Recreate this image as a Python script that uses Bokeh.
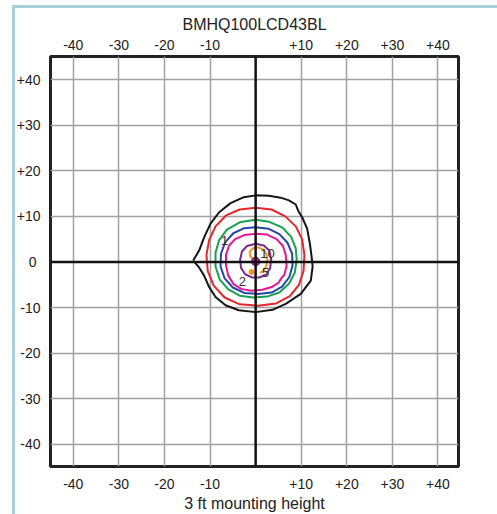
from bokeh.plotting import figure
from bokeh.models import LinearAxis, FixedTicker, Span
from bokeh.core.properties import value
from bokeh.embed import file_html
from bokeh.resources import INLINE

title = "BMHQ100LCD43BL"
xlabel = "3 ft mounting height"
x_ticks = [-40, -30, -20, -10, 10, 20, 30, 40]
x_tick_labels = ["-40", "-30", "-20", "-10", "+10", "+20", "+30", "+40"]
y_ticks = [-40, -30, -20, -10, 0, 10, 20, 30, 40]
y_tick_labels = ["-40", "-30", "-20", "-10", "0\u00a0", "+10", "+20", "+30", "+40"]
grid_ticks = [-40, -30, -20, -10, 10, 20, 30, 40]

# contour outlines (feet)
black_x = [-13.7, -12.4, -11.3, -9.9, -8.0, -5.5, -2.6, 0.0, 2.9, 5.5, 7.3, 8.8, 9.3, 10.2, 11.3, 11.9, 12.3, 12.5, 12.1, 9.9, 6.6, 3.7, 0.0, -3.7, -6.6, -8.8, -10.2, -11.3, -12.4, -13.7]
black_y = [0.3, 2.5, 5.4, 8.4, 10.9, 12.9, 14.2, 14.6, 14.5, 14.1, 13.5, 12.6, 11.3, 9.8, 7.3, 4.0, 1.0, -1.0, -4.1, -7.0, -9.2, -10.5, -11.0, -10.6, -9.5, -7.7, -5.5, -3.0, -1.2, 0.3]
red_x = [0.0, 3.5, 6.5, 8.8, 10.2, 10.7, 10.5, 9.5, 7.5, 4.5, 0.5, -3.5, -6.8, -9.2, -10.5, -10.8, -10.2, -8.8, -6.5, -3.5, 0.0]
red_y = [11.9, 11.5, 10.0, 7.8, 5.0, 1.5, -2.0, -5.0, -7.5, -9.1, -9.6, -9.3, -7.8, -5.2, -2.0, 1.5, 4.8, 7.8, 10.2, 11.5, 11.9]
green_x = [0.0, 3.0, 5.8, 7.8, 8.8, 9.0, 8.6, 7.3, 5.2, 2.5, -0.5, -3.5, -6.0, -7.9, -8.8, -8.8, -8.0, -6.3, -3.5, 0.0]
green_y = [9.25, 8.8, 7.6, 5.5, 3.0, 0.5, -2.3, -4.8, -6.7, -7.6, -7.8, -7.4, -6.0, -3.8, -1.0, 2.0, 4.8, 7.1, 8.7, 9.25]
blue_x = [0.0, 2.8, 5.2, 7.0, 8.0, 8.1, 7.4, 5.8, 3.5, 0.5, -2.5, -5.0, -6.8, -7.7, -7.6, -6.7, -4.9, -2.5, 0.0]
blue_y = [7.6, 7.3, 6.1, 4.2, 1.8, -0.8, -3.3, -5.4, -6.7, -7.0, -6.8, -5.6, -3.6, -1.0, 1.8, 4.3, 6.3, 7.4, 7.6]
magenta_x = [0.0, 2.5, 4.6, 6.0, 6.6, 6.8, 6.3, 5.6, 5.0, 3.5, 1.5, -1.0, -3.2, -4.9, -6.0, -6.5, -6.5, -5.8, -4.5, -2.5, 0.0]
magenta_y = [6.2, 6.0, 5.0, 3.5, 1.5, -0.8, -2.8, -3.6, -4.6, -5.5, -6.1, -6.3, -5.9, -4.8, -3.0, -0.8, 1.6, 3.6, 5.0, 5.9, 6.2]
purple_x = [0.0, 1.8, 3.0, 3.4, 3.2, 2.3, 0.8, -0.8, -2.3, -3.2, -3.4, -3.0, -1.9, 0.0]
purple_y = [4.0, 3.6, 2.5, 0.6, -1.3, -2.8, -3.4, -3.4, -2.7, -1.3, 0.5, 2.3, 3.5, 4.0]
orange_x = [0.5, -0.6, -1.2, -1.3, -0.6, 0.6, 1.7, 2.4, 2.6, 2.3, 1.7, 1.0]
orange_y = [0.6, 0.6, 1.3, 2.3, 3.0, 3.2, 2.7, 1.6, 0.3, -1.0, -1.9, -2.4]
orange_dot = (-0.9, -2.2)
center_dot = (0.0, 0.1)
label_text = ["1", "2", "10", "5"]
label_x = [-6.8, -2.9, 2.6, 2.2]
label_y = [4.7, -4.3, 1.75, -2.3]

FONT = "Liberation Sans"

p = figure(width=497, height=514, x_range=(-45.0, 44.5), y_range=(-44.85, 45.05),
           output_backend="svg", toolbar_location=None,
           min_border_left=50, min_border_right=39, min_border_top=56, min_border_bottom=48)
p.add_layout(LinearAxis(), "above")

p.border_fill_color = None
p.background_fill_color = "white"
p.outline_line_color = "#222222"
p.outline_line_width = 3
p.outline_line_alpha = 1.0

for ax in p.xaxis:
    ax.ticker = FixedTicker(ticks=x_ticks)
    ax.major_label_overrides = dict(zip(x_ticks, x_tick_labels))
for ax in p.yaxis:
    ax.ticker = FixedTicker(ticks=y_ticks)
    ax.major_label_overrides = dict(zip(y_ticks, y_tick_labels))
for ax in p.xaxis + p.yaxis:
    ax.axis_line_color = None
    ax.major_tick_line_color = None
    ax.minor_tick_line_color = None
    ax.major_tick_in = 0
    ax.major_tick_out = 0
    ax.major_label_text_font = FONT
    ax.major_label_text_font_size = "14px"
    ax.major_label_text_color = "#222222"
    ax.axis_label_text_font = FONT
    ax.axis_label_text_font_size = "16px"
    ax.axis_label_text_font_style = "normal"
    ax.axis_label_text_color = "#222222"

bottom = p.below[0]
top = p.above[0]
bottom.axis_label = xlabel
top.axis_label = title
bottom.major_label_standoff = 12
bottom.axis_label_standoff = 3
top.major_label_standoff = 7
top.axis_label_standoff = 4
p.yaxis[0].major_label_standoff = 10

for g in p.xgrid + p.ygrid:
    g.ticker = FixedTicker(ticks=grid_ticks)
    g.grid_line_color = "#a0a0a0"
    g.grid_line_width = 1.5

p.add_layout(Span(location=0, dimension="width", line_color="#111111", line_width=2.5))
p.add_layout(Span(location=0, dimension="height", line_color="#111111", line_width=2.5))

p.line(black_x, black_y, line_color="#151515", line_width=2)
p.line(red_x, red_y, line_color="#e5262b", line_width=2)
p.line(green_x, green_y, line_color="#16a24c", line_width=2)
p.line(blue_x, blue_y, line_color="#2445a6", line_width=2)
p.line(magenta_x, magenta_y, line_color="#e5168f", line_width=2)
p.line(purple_x, purple_y, line_color="#7d2b85", line_width=2)
p.line(orange_x, orange_y, line_color="#f7941d", line_width=2)
p.scatter([orange_dot[0]], [orange_dot[1]], size=5, fill_color="#f7941d", line_color="#f7941d")
p.scatter([center_dot[0]], [center_dot[1]], size=8, fill_color="#d6189b", line_color="#7d2b85", line_width=1.5)
p.text(label_x, label_y, text=label_text, text_font=value(FONT), text_font_size="13px",
       text_color="#333333", text_align="center", text_baseline="middle")

# light blue page frame lines (left and top), drawn as a CSS background behind the canvas
p.styles = {
    "background-color": "white",
    "background-image": "linear-gradient(#a9cfd9, #a9cfd9), linear-gradient(#a9cfd9, #a9cfd9)",
    "background-repeat": "no-repeat",
    "background-size": "3px 509px, 485px 3px",
    "background-position": "12px 5px, 12px 5px",
}

open("out.html", "w").write(file_html(p, INLINE))
